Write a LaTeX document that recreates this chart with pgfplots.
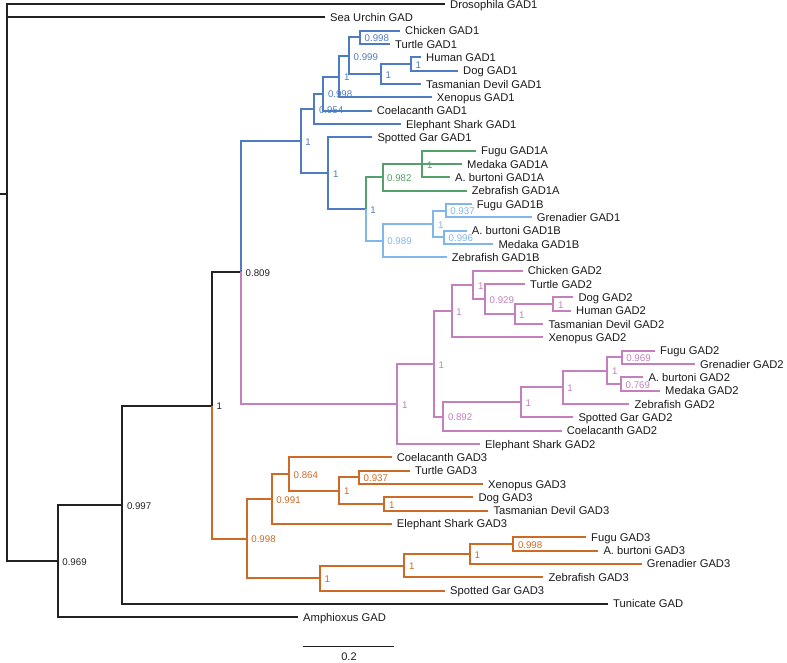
\documentclass[border=0pt]{standalone}
\usepackage{pgfplots}
\pgfplotsset{compat=1.18}
\usepackage{fontspec}
\setmainfont{Liberation Sans}
\definecolor{blk}{HTML}{222222}
\definecolor{b1}{HTML}{4D7CC2}
\definecolor{gr}{HTML}{52A06A}
\definecolor{lb}{HTML}{80B6EC}
\definecolor{pk}{HTML}{C47FBC}
\definecolor{org}{HTML}{CC6A26}
\definecolor{txt}{HTML}{1A1A1A}
\tikzset{
  tip/.style={anchor=base west, inner sep=0pt, xshift=5pt, yshift=-4pt, text=txt, font=\fontsize{11.2pt}{13pt}\selectfont},
  sup/.style={anchor=west, inner sep=0pt, xshift=4.5pt, yshift=-1pt, font=\fontsize{9.7pt}{11pt}\selectfont},
}
\newcommand{\E}[5]{\addplot[#1] coordinates {(#2,#3) (#2,#4) (#5,#4)};}
\newcommand{\T}[3]{\node[tip] at (axis cs:#1,#2) {#3};}
\newcommand{\Sup}[4]{\node[sup,text=#1] at (axis cs:#2,#3) {#4};}
\begin{document}
\begin{tikzpicture}
\begin{axis}[name=ax,
  width=787pt, height=662pt, scale only axis,
  xmin=0, xmax=787, ymin=0, ymax=662, y dir=reverse,
  hide axis, clip=false,
  every axis plot/.append style={line width=2pt, line join=miter, mark=none},
]
% root
\addplot[blk] coordinates {(0,194) (7,194)};
\E{blk}{7}{194}{4}{445}
\E{blk}{7}{194}{17.3}{325}
\E{blk}{7}{194}{561}{57.7}
\E{blk}{57.7}{561}{504.7}{122.3}
\E{blk}{57.7}{561}{617.2}{298}
\E{blk}{122.3}{504.7}{405.5}{212}
\E{blk}{122.3}{504.7}{603.9}{608}
\E{blk}{212}{405.5}{272.4}{241}
\E{org}{212}{405.5}{538.5}{246.7}
\E{b1}{241}{272.4}{141}{300.7}
\E{pk}{241}{272.4}{403.9}{397.3}
% GAD1
\E{b1}{300.7}{141}{108.8}{314.3}
\E{b1}{300.7}{141}{173.1}{328.3}
\E{b1}{314.3}{108.8}{93.6}{323.3}
\E{b1}{314.3}{108.8}{124}{401}
\E{b1}{323.3}{93.6}{76.5}{339.3}
\E{b1}{323.3}{93.6}{110.6}{371.7}
\E{b1}{339.3}{76.5}{55.7}{349}
\E{b1}{339.3}{76.5}{97.3}{431.7}
\E{b1}{349}{55.7}{37.35}{360}
\E{b1}{349}{55.7}{74}{381}
\E{b1}{360}{37.35}{30.7}{400}
\E{b1}{360}{37.35}{44}{390}
\E{b1}{381}{74}{64}{411}
\E{b1}{381}{74}{84}{421}
\E{b1}{411}{64}{57.3}{421}
\E{b1}{411}{64}{70.7}{458}
\E{b1}{328.3}{173.1}{137.3}{372.3}
\E{b1}{328.3}{173.1}{209}{365.7}
\E{gr}{365.7}{209}{177.3}{382.5}
\E{lb}{365.7}{209}{240.65}{382.7}
\E{gr}{382.5}{177.3}{164}{422.3}
\E{gr}{382.5}{177.3}{190.6}{466.7}
\E{gr}{422.3}{164}{150.6}{476}
\E{gr}{422.3}{164}{164}{462}
\E{gr}{422.3}{164}{177.3}{450}
\E{lb}{382.7}{240.65}{224}{433.3}
\E{lb}{382.7}{240.65}{257.3}{446.7}
\E{lb}{433.3}{224}{210.65}{445.7}
\E{lb}{433.3}{224}{237.3}{444}
\E{lb}{445.7}{210.65}{204}{471.7}
\E{lb}{445.7}{210.65}{217.3}{531.7}
\E{lb}{444}{237.3}{230.6}{466.7}
\E{lb}{444}{237.3}{244}{493.3}
% GAD2
\E{pk}{397.3}{403.9}{363.7}{434}
\E{pk}{397.3}{403.9}{444}{480}
\E{pk}{434}{363.7}{311}{451.7}
\E{pk}{434}{363.7}{416.5}{443.3}
\E{pk}{451.7}{311}{284.8}{473.3}
\E{pk}{451.7}{311}{337.3}{543.3}
\E{pk}{473.3}{284.8}{270.6}{522.7}
\E{pk}{473.3}{284.8}{299}{485}
\E{pk}{485}{299}{284}{525}
\E{pk}{485}{299}{314}{514.5}
\E{pk}{514.5}{314}{304}{553.3}
\E{pk}{514.5}{314}{324}{543.3}
\E{pk}{553.3}{304}{297.3}{573.3}
\E{pk}{553.3}{304}{310.6}{571}
\E{pk}{443.3}{416.5}{402.3}{521}
\E{pk}{443.3}{416.5}{430.6}{561.7}
\E{pk}{521}{402.3}{387.3}{562.7}
\E{pk}{521}{402.3}{417.3}{573.3}
\E{pk}{562.7}{387.3}{370.6}{607.3}
\E{pk}{562.7}{387.3}{404}{629.3}
\E{pk}{607.3}{370.6}{357.3}{621.7}
\E{pk}{607.3}{370.6}{384}{621}
\E{pk}{621.7}{357.3}{350.6}{655}
\E{pk}{621.7}{357.3}{364}{695}
\E{pk}{621}{384}{377.3}{643.3}
\E{pk}{621}{384}{390.6}{660}
% GAD3
\E{org}{246.7}{538.5}{498.9}{271.7}
\E{org}{246.7}{538.5}{578}{320}
\E{org}{271.7}{498.9}{473.9}{289}
\E{org}{271.7}{498.9}{523.9}{391.7}
\E{org}{289}{473.9}{457.2}{391.7}
\E{org}{289}{473.9}{490.6}{339.3}
\E{org}{339.3}{490.6}{477.3}{359}
\E{org}{339.3}{490.6}{503.9}{384.3}
\E{org}{359}{477.3}{470.6}{410}
\E{org}{359}{477.3}{484}{483}
\E{org}{384.3}{503.9}{497.2}{473.3}
\E{org}{384.3}{503.9}{510.6}{488.3}
\E{org}{320}{578}{565.6}{404.3}
\E{org}{320}{578}{590.5}{445}
\E{org}{404.3}{565.6}{553.9}{470}
\E{org}{404.3}{565.6}{577.2}{543.3}
\E{org}{470}{553.9}{543.9}{513.3}
\E{org}{470}{553.9}{563.9}{641.7}
\E{org}{513.3}{543.9}{537.2}{586}
\E{org}{513.3}{543.9}{550.6}{598.3}
% scale bar
\addplot[blk, line width=1.3pt] coordinates {(303.3,646.7) (394.3,646.7)};
\node[anchor=base, inner sep=0pt, text=txt, font=\fontsize{11pt}{13pt}\selectfont] at (axis cs:349,660.5) {0.2};
% tip labels
\T{445}{4}{Drosophila GAD1}
\T{325}{17.3}{Sea Urchin GAD}
\T{400}{30.7}{Chicken GAD1}
\T{390}{44}{Turtle GAD1}
\T{421}{57.3}{Human GAD1}
\T{458}{70.7}{Dog GAD1}
\T{421}{84}{Tasmanian Devil GAD1}
\T{431.7}{97.3}{Xenopus GAD1}
\T{371.7}{110.6}{Coelacanth GAD1}
\T{401}{124}{Elephant Shark GAD1}
\T{372.3}{137.3}{Spotted Gar GAD1}
\T{476}{150.6}{Fugu GAD1A}
\T{462}{164}{Medaka GAD1A}
\T{450}{177.3}{A. burtoni GAD1A}
\T{466.7}{190.6}{Zebrafish GAD1A}
\T{471.7}{204}{Fugu GAD1B}
\T{531.7}{217.3}{Grenadier GAD1}
\T{466.7}{230.6}{A. burtoni GAD1B}
\T{493.3}{244}{Medaka GAD1B}
\T{446.7}{257.3}{Zebrafish GAD1B}
\T{522.7}{270.6}{Chicken GAD2}
\T{525}{284}{Turtle GAD2}
\T{573.3}{297.3}{Dog GAD2}
\T{571}{310.6}{Human GAD2}
\T{543.3}{324}{Tasmanian Devil GAD2}
\T{543.3}{337.3}{Xenopus GAD2}
\T{655}{350.6}{Fugu GAD2}
\T{695}{364}{Grenadier GAD2}
\T{643.3}{377.3}{A. burtoni GAD2}
\T{660}{390.6}{Medaka GAD2}
\T{629.3}{404}{Zebrafish GAD2}
\T{573.3}{417.3}{Spotted Gar GAD2}
\T{561.7}{430.6}{Coelacanth GAD2}
\T{480}{444}{Elephant Shark GAD2}
\T{391.7}{457.2}{Coelacanth GAD3}
\T{410}{470.6}{Turtle GAD3}
\T{483}{484}{Xenopus GAD3}
\T{473.3}{497.2}{Dog GAD3}
\T{488.3}{510.6}{Tasmanian Devil GAD3}
\T{391.7}{523.9}{Elephant Shark GAD3}
\T{586}{537.2}{Fugu GAD3}
\T{598.3}{550.6}{A. burtoni GAD3}
\T{641.7}{563.9}{Grenadier GAD3}
\T{543.3}{577.2}{Zebrafish GAD3}
\T{445}{590.5}{Spotted Gar GAD3}
\T{608}{603.9}{Tunicate GAD}
\T{298}{617.2}{Amphioxus GAD}
% support values
\Sup{blk}{241}{272.4}{0.809}
\Sup{blk}{212}{405.5}{1}
\Sup{blk}{122.3}{504.7}{0.997}
\Sup{blk}{57.7}{561}{0.969}
\Sup{b1}{300.7}{141}{1}
\Sup{b1}{314.3}{108.8}{0.954}
\Sup{b1}{323.3}{93.6}{0.998}
\Sup{b1}{339.3}{76.5}{1}
\Sup{b1}{349}{55.7}{0.999}
\Sup{b1}{360}{37.35}{0.998}
\Sup{b1}{381}{74}{1}
\Sup{b1}{411}{64}{1}
\Sup{b1}{328.3}{173.1}{1}
\Sup{b1}{365.7}{209}{1}
\Sup{gr}{382.5}{177.3}{0.982}
\Sup{gr}{422.3}{164}{1}
\Sup{lb}{382.7}{240.65}{0.989}
\Sup{lb}{433.3}{224}{1}
\Sup{lb}{445.7}{210.65}{0.937}
\Sup{lb}{444}{237.3}{0.996}
\Sup{pk}{397.3}{403.9}{1}
\Sup{pk}{434}{363.7}{1}
\Sup{pk}{451.7}{311}{1}
\Sup{pk}{473.3}{284.8}{1}
\Sup{pk}{485}{299}{0.929}
\Sup{pk}{514.5}{314}{1}
\Sup{pk}{553.3}{304}{1}
\Sup{pk}{443.3}{416.5}{0.892}
\Sup{pk}{521}{402.3}{1}
\Sup{pk}{562.7}{387.3}{1}
\Sup{pk}{607.3}{370.6}{1}
\Sup{pk}{621.7}{357.3}{0.969}
\Sup{pk}{621}{384}{0.769}
\Sup{org}{246.7}{538.5}{0.998}
\Sup{org}{271.7}{498.9}{0.991}
\Sup{org}{289}{473.9}{0.864}
\Sup{org}{339.3}{490.6}{1}
\Sup{org}{359}{477.3}{0.937}
\Sup{org}{384.3}{503.9}{1}
\Sup{org}{320}{578}{1}
\Sup{org}{404.3}{565.6}{1}
\Sup{org}{470}{553.9}{1}
\Sup{org}{513.3}{543.9}{0.998}
\end{axis}
\pgfresetboundingbox
\path[use as bounding box] (ax.south west) rectangle (ax.north east);
\end{tikzpicture}
\end{document}
